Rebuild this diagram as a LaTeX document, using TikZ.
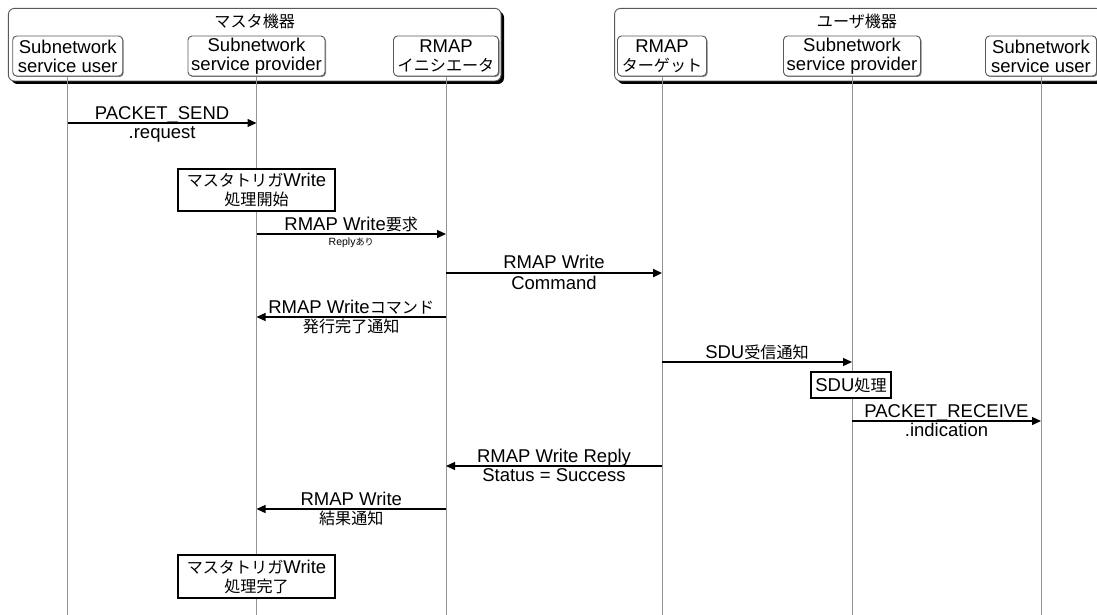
\documentclass[tikz,border=0pt]{standalone}
\usepackage{fontspec}
\setmainfont{Liberation Sans}
\newfontfamily\jp{Noto Sans CJK JP}[Scale=0.87]
\usetikzlibrary{arrows.meta,shadows}
\begin{document}
\begin{tikzpicture}[x=1pt,y=-1pt,
  every node/.style={font=\fontsize{18.5}{19}\selectfont},
  grp/.style={draw=gray!70!black, line width=0.9pt, rounded corners=6pt, fill=white,
    drop shadow={shadow xshift=3pt, shadow yshift=-3pt, fill=black, opacity=1}, inner sep=0pt},
  head/.style={draw=gray!70!black, line width=0.9pt, rounded corners=4pt, fill=white, align=center,
    inner sep=0pt, minimum height=40pt,
    drop shadow={shadow xshift=1pt, shadow yshift=-1pt, fill=gray, opacity=1}},
  ttl/.style={font=\fontsize{18.5}{19}\selectfont\jp, inner sep=0pt},
  life/.style={draw=gray!85, line width=1pt},
  msg/.style={draw=black, line width=1.3pt, -{Triangle[length=9pt,width=8pt]}},
  cmd/.style={msg, line width=2.6pt},
  act/.style={draw=black, line width=1.2pt, fill=white, align=center, inner sep=0pt},
  lblup/.style={above=0pt, inner sep=0pt, text depth=3pt},
  lbldn/.style={below=2pt, inner sep=0pt, text height=13pt},
  lblsm/.style={below=3pt, inner sep=0pt, font=\fontsize{10.5}{11}\selectfont}
]
\useasboundingbox (0,0) rectangle (1097,615);

% group boxes
\node[grp, minimum width=492.6pt, minimum height=72.6pt] (mgrp) at (254.7,44.7) {};
\node[grp, minimum width=487.5pt, minimum height=72.6pt] (ugrp) at (858.3,44.7) {};
\node[ttl] (mtitle) at (254.7,21) {マスタ機器};
\node[ttl] (utitle) at (857,21) {ユーザ機器};

% lifeline heads
\node[head, minimum width=110pt] (mu) at (67.7,56) {Subnetwork\\service user};
\node[head, minimum width=137pt] (mp) at (256.5,56) {Subnetwork\\service provider};
\node[head, minimum width=105pt] (mi) at (446,56) {RMAP\\{\jp イニシエータ}};
\node[head, minimum width=89pt] (ut) at (662,56) {RMAP\\{\jp ターゲット}};
\node[head, minimum width=137pt] (up) at (852,56) {Subnetwork\\service provider};
\node[head, minimum width=111pt] (uu) at (1041,56) {Subnetwork\\service user};

% lifelines
\foreach \n in {mu,mp,mi,ut,up,uu}
  \draw[life] ([yshift=-1pt]\n.south) -- (\n.south |- 0,615);

% messages
\draw[msg] (mu.south |- 0,123) -- node[lblup]{PACKET\_SEND} node[lbldn]{.request} (mp.south |- 0,123);

\node[act, minimum width=157pt, minimum height=42pt] (act1) at (256.5,190)
  {{\jp マスタトリガ}Write\\{\jp 処理開始}};

\draw[msg] (mp.south |- 0,234) -- node[lblup]{RMAP Write{\jp 要求}} node[lblsm]{Reply{\jp あり}} (mi.south |- 0,234);

\draw[cmd] (mi.south |- 0,273) -- node[lblup]{RMAP Write} node[lbldn]{Command} (ut.south |- 0,273);

\draw[msg] (mi.south |- 0,317) -- node[lblup]{RMAP Write{\jp コマンド}} node[lbldn]{\jp 発行完了通知} (mp.south |- 0,317);

\draw[msg] (ut.south |- 0,362) -- node[lblup]{SDU{\jp 受信通知}} (up.south |- 0,362);

\node[act, minimum width=80pt, minimum height=26pt] (act2) at (851,385) {SDU{\jp 処理}};

\draw[msg] (up.south |- 0,421) -- node[lblup]{PACKET\_RECEIVE} node[lbldn]{.indication} (uu.south |- 0,421);

\draw[msg] (ut.south |- 0,466) -- node[lblup]{RMAP Write Reply} node[lbldn]{Status = Success} (mi.south |- 0,466);

\draw[msg] (mi.south |- 0,509) -- node[lblup]{RMAP Write} node[lbldn]{\jp 結果通知} (mp.south |- 0,509);

\node[act, minimum width=157pt, minimum height=43pt] (act3) at (256.5,576.5)
  {{\jp マスタトリガ}Write\\{\jp 処理完了}};
\end{tikzpicture}
\end{document}
